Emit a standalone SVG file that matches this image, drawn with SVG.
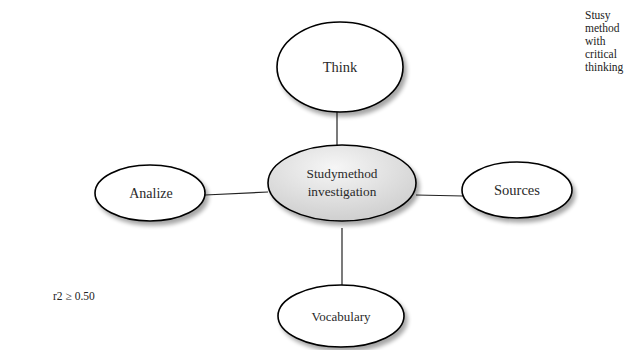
<svg xmlns="http://www.w3.org/2000/svg" width="635" height="350" viewBox="0 0 635 350">
<style>
.node{fill:#fff;stroke:#000;stroke-width:1.6;filter:url(#sh)}
.lbl{font-family:"Liberation Serif",serif;fill:#2a2a2a;text-anchor:middle}
.conn{stroke:#222;stroke-width:1.2;fill:none}
.note{font-family:"Liberation Serif",serif;fill:#222;font-size:11.5px}
</style>
<defs>
<filter id="sh" x="-20%" y="-20%" width="150%" height="160%">
<feGaussianBlur in="SourceAlpha" stdDeviation="2"/>
<feOffset dx="3" dy="4" result="b"/>
<feComponentTransfer><feFuncA type="linear" slope="0.35"/></feComponentTransfer>
<feMerge><feMergeNode/><feMergeNode in="SourceGraphic"/></feMerge>
</filter>
<radialGradient id="g" cx="0.45" cy="0.3" r="0.7">
<stop offset="0" stop-color="#f6f6f6"/>
<stop offset="1" stop-color="#cfcfcf"/>
</radialGradient>
</defs>
<rect width="635" height="350" fill="#fff"/>
<g id="connectors">
<line class="conn" x1="337" y1="112" x2="337" y2="145"/>
<line class="conn" x1="205" y1="195" x2="268" y2="192"/>
<line class="conn" x1="416" y1="195" x2="463" y2="196"/>
<line class="conn" x1="342" y1="228" x2="342" y2="286"/>
</g>
<g id="think">
<ellipse class="node" cx="340" cy="67" rx="63" ry="45"/>
<text class="lbl" x="340" y="72" font-size="14.5">Think</text>
</g>
<g id="center">
<ellipse class="node" cx="342" cy="183" rx="74" ry="38" style="fill:url(#g)"/>
<text class="lbl" x="342" y="178" font-size="13.3">Studymethod</text>
<text class="lbl" x="342" y="196" font-size="13.3">investigation</text>
</g>
<g id="analize">
<ellipse class="node" cx="150" cy="193" rx="55" ry="28"/>
<text class="lbl" x="151" y="198" font-size="14">Analize</text>
</g>
<g id="sources">
<ellipse class="node" cx="517" cy="190" rx="55" ry="28"/>
<text class="lbl" x="517" y="195" font-size="14.5">Sources</text>
</g>
<g id="vocabulary">
<ellipse class="node" cx="341" cy="316" rx="63" ry="31"/>
<text class="lbl" x="341" y="321" font-size="13">Vocabulary</text>
</g>
<text class="note" x="53" y="300">r2 ≥ 0.50</text>
<g id="note">
<text class="note" x="585" y="19">Stusy</text>
<text class="note" x="585" y="32">method</text>
<text class="note" x="585" y="45">with</text>
<text class="note" x="585" y="58">critical</text>
<text class="note" x="585" y="71">thinking</text>
</g>
</svg>
